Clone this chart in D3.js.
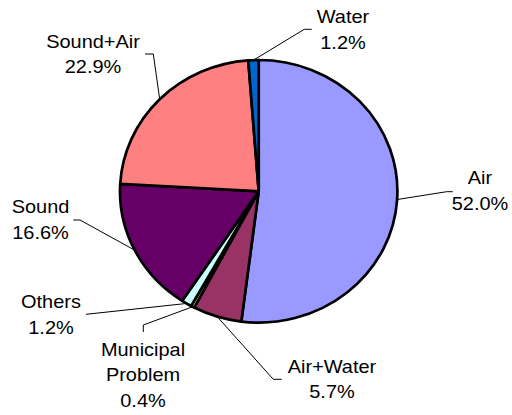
<!DOCTYPE html>
<html><head><meta charset="utf-8">
<script src="https://cdn.jsdelivr.net/npm/d3@7"></script>
<style>body{margin:0;background:#fff}svg{display:block}</style>
</head><body>
<script>
// ---- data ----
const categories = ["Air", "Air+Water", "Municipal Problem", "Others", "Sound", "Sound+Air", "Water"];
const values = [52.0, 5.7, 0.4, 1.2, 16.6, 22.9, 1.2];
const colors = ["#9999FF", "#993366", "#FFFFCC", "#CCFFFF", "#660066", "#FF8080", "#0066CC"];
const labelLines = [["Air"], ["Air+Water"], ["Municipal", "Problem"], ["Others"], ["Sound"], ["Sound+Air"], ["Water"]];

// ---- layout ----
const W = 512, H = 415;
const cx = 258.7, cy = 191.3, rx = 138.7, ry = 131.3;
// label anchor (center x, first baseline y), leader elbow and leader end
const labelLayout = [
  {x: 480, y: 184.3, elbow: [446.7, 191.7], end: [452.7, 191.7]},
  {x: 332, y: 372.7, elbow: [273.3, 379.3], end: [281.7, 379.3]},
  {x: 143, y: 355.5, elbow: [143.3, 325], end: [143.3, 332]},
  {x: 51, y: 308.3, elbow: [86, 314.3], end: [86, 314.3]},
  {x: 40.5, y: 213.3, elbow: [80, 220], end: [73.3, 220]},
  {x: 93, y: 47.7, elbow: [153.3, 54], end: [145, 54]},
  {x: 343, y: 23, elbow: [304.3, 29.3], end: [311.7, 29.3]}
];
const lineH = 25.7, fontSize = 19, textStretch = 1.05;

const svg = d3.select("body").append("svg").attr("width", W).attr("height", H);

const pie = d3.pie().sort(null).value(d => d)(values);
const arc = d3.arc().innerRadius(0).outerRadius(ry);

const g = svg.append("g").attr("transform", `translate(${cx},${cy}) scale(${rx / ry},1)`);
g.selectAll("path").data(pie).join("path")
  .attr("d", arc)
  .attr("fill", (d, i) => colors[i])
  .attr("stroke", "#000")
  .attr("stroke-width", 2.7)
  .attr("stroke-linejoin", "round")
  .attr("vector-effect", "non-scaling-stroke");

// leader lines
pie.forEach((d, i) => {
  const a = (d.startAngle + d.endAngle) / 2;
  const p0 = [cx + rx * Math.sin(a), cy - ry * Math.cos(a)];
  const L = labelLayout[i];
  svg.append("polyline")
    .attr("points", [p0, L.elbow, L.end].map(p => p.join(",")).join(" "))
    .attr("fill", "none").attr("stroke", "#000").attr("stroke-width", 1);
});

// labels
pie.forEach((d, i) => {
  const L = labelLayout[i];
  const lines = labelLines[i].concat([d3.format(".1f")(values[i]) + "%"]);
  const t = svg.append("g").attr("transform", `translate(${L.x},${L.y}) scale(${textStretch},1)`);
  lines.forEach((s, k) => {
    t.append("text").attr("x", 0).attr("y", k * lineH)
      .attr("text-anchor", "middle")
      .attr("font-family", "'Liberation Sans', Arial, sans-serif")
      .attr("font-size", fontSize).attr("fill", "#000")
      .text(s);
  });
});
</script>
</body></html>
